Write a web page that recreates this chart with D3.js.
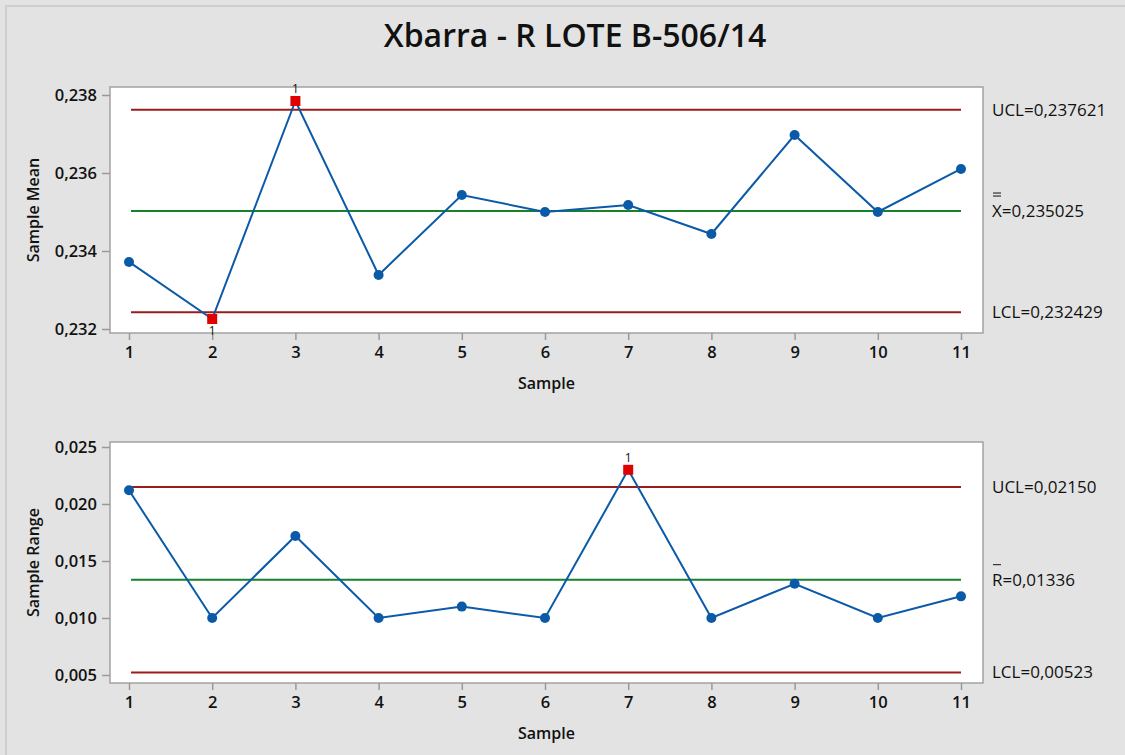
<!DOCTYPE html>
<html>
<head>
<meta charset="utf-8">
<script src="https://cdn.jsdelivr.net/npm/d3@7"></script>
<style>
  body { margin: 0; background: #e3e3e3; }
  text { font-family: "Open Sans", "Noto Sans", sans-serif; fill: #111; }
</style>
</head>
<body>
<script>
// samples and values
const samples = [1, 2, 3, 4, 5, 6, 7, 8, 9, 10, 11]
const means = [0.23372, 0.232256, 0.237846, 0.233385, 0.235436, 0.235, 0.23518, 0.234436, 0.236974, 0.235, 0.236103]
const ranges = [0.0212, 0.0100, 0.0172, 0.0100, 0.0110, 0.0100, 0.0230, 0.0100, 0.0130, 0.0100, 0.0119]
const meanLimits = { ucl: 0.237621, center: 0.235025, lcl: 0.232429 }
const rangeLimits = { ucl: 0.02150, center: 0.01336, lcl: 0.00523 }
const meanTicks = [0.232, 0.234, 0.236, 0.238]
const rangeTicks = [0.005, 0.010, 0.015, 0.020, 0.025]

const W = 1125, H = 755
const locale = d3.formatLocale({ decimal: ",", thousands: ".", grouping: [3], currency: ["", ""] })

const svg = d3.select("body").append("svg")
    .attr("width", W).attr("height", H)

// outer frame
svg.append("rect").attr("x", 0).attr("y", 0).attr("width", W).attr("height", H).attr("fill", "#e3e3e3")
svg.append("path").attr("d", "M6,755 V6 H1125").attr("fill", "none").attr("stroke", "#cfcfcf").attr("stroke-width", 2)

svg.append("text")
    .attr("x", 575).attr("y", 47)
    .attr("text-anchor", "middle")
    .style("font-size", "32px").style("font-weight", 600)
    .text("Xbarra - R LOTE B-506/14")

/**
 * draw one control chart panel
 */
function drawPanel(cfg) {
    const box = cfg.box
    const g = svg.append("g")

    const x = d3.scaleLinear().domain([1, 11]).range([box.x0 + 19, box.x1 - 22])
    const y = d3.scaleLinear().domain(cfg.domain).range(cfg.yRange)

    g.append("rect")
        .attr("x", box.x0).attr("y", box.y0)
        .attr("width", box.x1 - box.x0).attr("height", box.y1 - box.y0)
        .attr("fill", "white").attr("stroke", "#a3a3a3").attr("stroke-width", 1.5)

    // axes
    const yAxis = g.append("g")
        .attr("transform", `translate(${box.x0},0)`)
        .call(d3.axisLeft(y).tickValues(cfg.ticks).tickFormat(locale.format(".3f")).tickSize(8).tickPadding(5))
    const xAxis = g.append("g")
        .attr("transform", `translate(0,${box.y1})`)
        .call(d3.axisBottom(x).tickValues(samples).tickFormat(d3.format("d")).tickSize(7).tickPadding(6))

    for (const ax of [yAxis, xAxis]) {
        ax.select(".domain").remove()
        ax.selectAll(".tick line").attr("stroke", "#999").attr("stroke-width", 1.5)
        ax.selectAll(".tick text").style("font-size", "16.5px").style("font-weight", 600).attr("fill", "#111")
    }

    g.append("text")
        .attr("transform", `translate(39,${(box.y0 + box.y1) / 2}) rotate(-90)`)
        .attr("text-anchor", "middle")
        .style("font-size", "16px").style("font-weight", 600)
        .text(cfg.yLabel)
    g.append("text")
        .attr("x", (box.x0 + box.x1) / 2).attr("y", box.y1 + 56)
        .attr("text-anchor", "middle")
        .style("font-size", "16px").style("font-weight", 600)
        .text("Sample")

    // control limits
    const lim = cfg.limits
    const limLines = [
        { v: lim.ucl, c: "#9b1c1c" },
        { v: lim.center, c: "#17812d" },
        { v: lim.lcl, c: "#9b1c1c" }
    ]
    g.selectAll("line.limit").data(limLines).enter().append("line")
        .attr("class", "limit")
        .attr("x1", x(1) + 2).attr("x2", x(11))
        .attr("y1", d => y(d.v)).attr("y2", d => y(d.v))
        .attr("stroke", d => d.c).attr("stroke-width", 2)

    const fmt = locale.format(cfg.limFormat)
    const lx = box.x1 + 9
    const fs = "17px"
    g.append("text").attr("x", lx).attr("y", y(lim.ucl) + 6).style("font-size", fs).text("UCL=" + fmt(lim.ucl))
    g.append("text").attr("x", lx).attr("y", y(lim.lcl) + 6).style("font-size", fs).text("LCL=" + fmt(lim.lcl))
    g.append("text").attr("x", lx).attr("y", y(lim.center) + 6).style("font-size", fs).text(cfg.centerName + "=" + fmt(lim.center))
    // bar(s) over the center symbol
    const barY = y(lim.center) - 15
    for (let i = 0; i < cfg.bars; i++) {
        g.append("line")
            .attr("x1", lx + 1).attr("x2", lx + 9)
            .attr("y1", barY - i * 3).attr("y2", barY - i * 3)
            .attr("stroke", "#111").attr("stroke-width", 1)
    }

    // data line
    const vals = cfg.values
    const pts = samples.map((s, i) => ({ s: s, v: vals[i] }))
    g.append("path")
        .datum(pts)
        .attr("fill", "none")
        .attr("stroke", "#0b5aa8")
        .attr("stroke-width", 2)
        .attr("d", d3.line().x(d => x(d.s)).y(d => y(d.v)))

    const out = d => d.v > lim.ucl || d.v < lim.lcl
    g.selectAll("circle.pt").data(pts.filter(d => !out(d))).enter().append("circle")
        .attr("class", "pt")
        .attr("cx", d => x(d.s)).attr("cy", d => y(d.v))
        .attr("r", 5)
        .attr("fill", "#0b5aa8")

    const flagged = pts.filter(out)
    g.selectAll("rect.flag").data(flagged).enter().append("rect")
        .attr("class", "flag")
        .attr("x", d => x(d.s) - 5).attr("y", d => y(d.v) - 5)
        .attr("width", 10).attr("height", 10)
        .attr("fill", "#e00000")
    g.selectAll("text.flag").data(flagged).enter().append("text")
        .attr("class", "flag")
        .attr("x", d => x(d.s))
        .attr("y", d => d.v > lim.ucl ? y(d.v) - 8 : y(d.v) + 16)
        .attr("text-anchor", "middle")
        .attr("fill", "#111")
        .style("font-size", "12px")
        .text("1")
}

drawPanel({
    box: { x0: 110, x1: 983, y0: 87, y1: 333 },
    domain: [0.232, 0.238], yRange: [329, 95],
    ticks: meanTicks, values: means, limits: meanLimits,
    yLabel: "Sample Mean", centerName: "X", bars: 2, limFormat: ".6f"
})

drawPanel({
    box: { x0: 110, x1: 983, y0: 442, y1: 683 },
    domain: [0.005, 0.025], yRange: [675, 447],
    ticks: rangeTicks, values: ranges, limits: rangeLimits,
    yLabel: "Sample Range", centerName: "R", bars: 1, limFormat: ".5f"
})
</script>
</body>
</html>
